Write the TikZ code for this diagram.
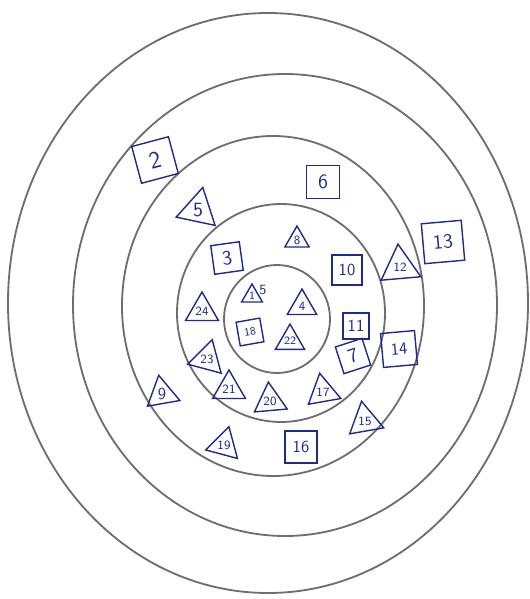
\documentclass[tikz,border=0pt]{standalone}
\usepackage{xcolor}
\usepackage{tikz}
\usetikzlibrary{shapes.geometric}
\definecolor{ink}{HTML}{1E2A8C}
\definecolor{pencil}{HTML}{6E6E6E}
\tikzset{
  ring/.style={draw=pencil, line width=1.3pt},
  box/.style={draw=ink, text=ink, line width=1pt, minimum size=#1,
              inner sep=1pt, font=\sffamily\large},
  box/.default=8mm,
  tri/.style={draw=ink, text=ink, line width=1pt, regular polygon,
              regular polygon sides=3, minimum size=#1, inner sep=0pt,
              font=\sffamily\small},
  tri/.default=9mm
}

\begin{document}
\begin{tikzpicture}[x=0.25mm, y=-0.25mm]
  \useasboundingbox (0,0) rectangle (530,599);

  % rings, outer to inner
  \draw[ring] (268,303) ellipse [x radius=260, y radius=290];
  \draw[ring] (285,305) ellipse [x radius=212, y radius=231];
  \draw[ring] (273,306) ellipse [x radius=151, y radius=170];
  \draw[ring] (281,313) ellipse [x radius=104, y radius=109];
  \draw[ring] (277,319) ellipse [x radius=53, y radius=54];

  % squares
  \node[box=9.5mm, rotate=15, font=\sffamily\LARGE] (b2) at (155,160) {2};
  \node[box=8.2mm, font=\sffamily\Large] (b6) at (323,182) {6};
  \node[box=7.2mm, rotate=8, font=\sffamily\Large] (b3) at (227,258) {3};
  \node[box=7.5mm] (b10) at (347,270) {10};
  \node[box=10mm, rotate=5, font=\sffamily\Large] (b13) at (443,242) {13};
  \node[box=6.5mm] (b11) at (356,326) {11};
  \node[box=7mm, rotate=18, font=\sffamily\Large] (b7) at (353,356) {7};
  \node[box=8.5mm, rotate=5] (b14) at (399,349) {14};
  \node[box=8mm] (b16) at (301,447) {16};
  \node[box=6mm, rotate=10, font=\sffamily\footnotesize] (b18) at (250,332) {18};

  % triangles
  \node[tri=11.5mm, regular polygon rotate=-12, font=\sffamily\Large] (t5) at (198,210) {5};
  \node[tri=7mm] (t8) at (297,240) {8};
  \node[tri=11.5mm, regular polygon rotate=5] (t12) at (400,267) {12};
  \node[tri=9.5mm] (t24) at (202,311) {24};
  \node[tri=10mm, regular polygon rotate=-15] (t23) at (207,359) {23};
  \node[tri=9.5mm] (t21) at (229,389) {21};
  \node[tri=9.5mm, regular polygon rotate=5] (t20) at (270,401) {20};
  \node[tri=9.5mm, regular polygon rotate=10] (t17) at (323,392) {17};
  \node[tri=9.5mm, regular polygon rotate=10, font=\sffamily\large] (t9) at (162,394) {9};
  \node[tri=9.5mm, regular polygon rotate=-15] (t19) at (224,445) {19};
  \node[tri=10mm, regular polygon rotate=10] (t15) at (365,421) {15};
  \node[tri=8.5mm] (t4) at (302,306) {4};
  \node[tri=7.5mm, font=\sffamily\footnotesize] (t22) at (290,341) {22};
  \node[tri=6mm, font=\sffamily\footnotesize,
        label={[text=ink, font=\sffamily\normalsize, inner sep=0pt]10:5}] (t1) at (252,296) {1};
\end{tikzpicture}
\end{document}
